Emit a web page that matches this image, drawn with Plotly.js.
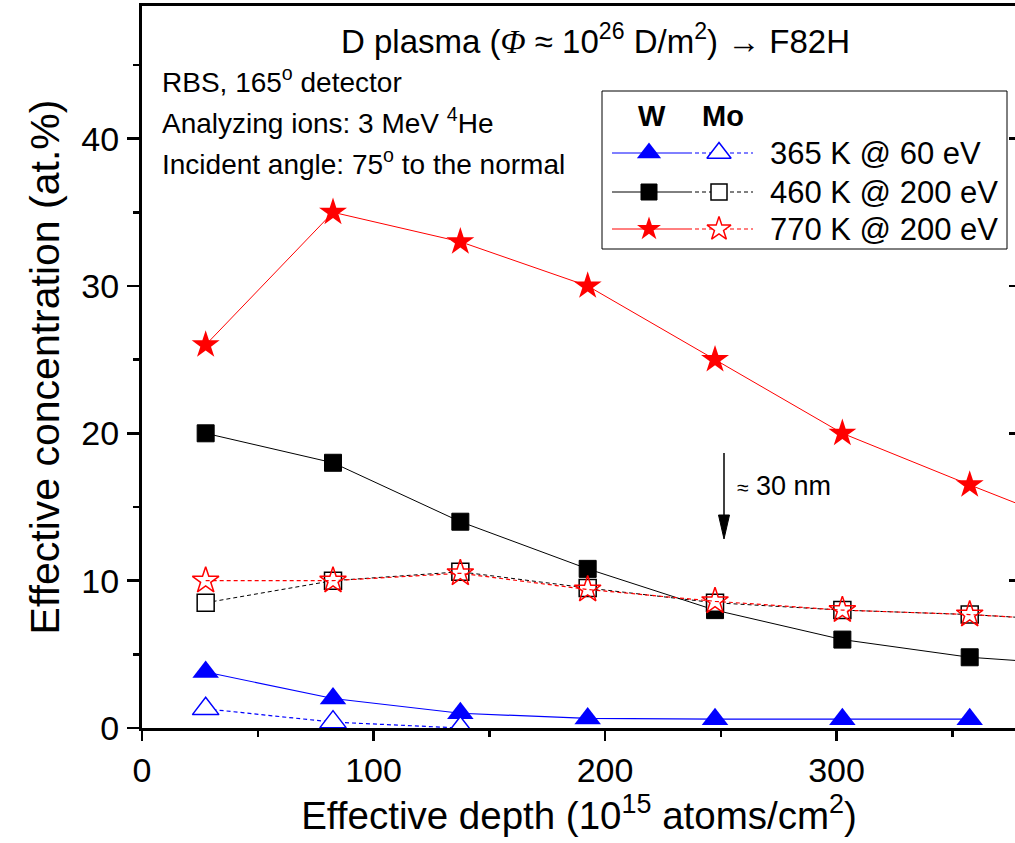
<!DOCTYPE html>
<html>
<head>
<meta charset="utf-8">
<script src="https://cdn.plot.ly/plotly-3.0.1.min.js"></script>
<style>
html,body{margin:0;padding:0;overflow:hidden;background:#fff;}
#chart{width:1016px;height:843px;}
</style>
</head>
<body>
<div id="chart"></div>
<script>
// ---- data ----
var depth = [27.5, 82.5, 137.5, 192.5, 247.5, 302.5, 357.5, 412.5];
var W_365K = [3.8, 2.0, 1.0, 0.65, 0.6, 0.6, 0.6];
var Mo_365K = [1.3, 0.4, 0.0];
var W_460K = [20.0, 18.0, 14.0, 10.8, 8.0, 6.0, 4.8, 4.2];
var Mo_460K = [8.5, 10.0, 10.6, 9.5, 8.5, 8.0, 7.7, 7.2];
var W_770K = [26.0, 35.0, 33.0, 30.0, 25.0, 20.0, 16.5, 13.1];
var Mo_770K = [10.0, 10.0, 10.5, 9.4, 8.6, 8.0, 7.7, 7.2];
var seriesLabels = ['365 K @ 60 eV', '460 K @ 200 eV', '770 K @ 200 eV'];
var xTicks = [0, 100, 200, 300];
var yTicks = [0, 10, 20, 30, 40];

// ---- geometry ----
var W = 1016, H = 843;
var L = 142, R = 0, T = 6, B = 115;
var XMAX = 377.5, YMAX = 49;
var pw = W - L - R, ph = H - T - B;
function px2x(px){ return (px - L) / pw * XMAX; }
function py2y(py){ return (H - B - py) / ph * YMAX; }
function ppx(px){ return (px - L) / pw; }
function ppy(py){ return (H - B - py) / ph; }

var FONT = 'Liberation Sans, Arial, sans-serif';
var BLUE = '#0000ff', BLACK = '#000000', RED = '#ff0000';
var DASH = '4px,3px';
var TRI = 23, SQ = 17, STAR = 21;

function sub(arr, n){ return arr.slice(0, n); }

var traces = [
  {x: sub(depth, W_365K.length), y: W_365K, mode: 'lines+markers', name: 'W 365 K',
   line: {color: BLUE, width: 1.2},
   marker: {symbol: 'triangle-up', size: TRI, color: BLUE, line: {width: 0}}},
  {x: sub(depth, Mo_365K.length), y: Mo_365K, mode: 'lines+markers', name: 'Mo 365 K',
   line: {color: BLUE, width: 1.2, dash: DASH},
   marker: {symbol: 'triangle-up', size: TRI, color: '#ffffff', line: {width: 1.5, color: BLUE}}},
  {x: sub(depth, W_460K.length), y: W_460K, mode: 'lines+markers', name: 'W 460 K',
   line: {color: BLACK, width: 1},
   marker: {symbol: 'square', size: SQ, color: BLACK, line: {width: 1, color: BLACK}}},
  {x: sub(depth, Mo_460K.length), y: Mo_460K, mode: 'lines+markers', name: 'Mo 460 K',
   line: {color: BLACK, width: 1, dash: DASH},
   marker: {symbol: 'square', size: SQ, color: '#ffffff', line: {width: 1.5, color: BLACK}}},
  {x: sub(depth, W_770K.length), y: W_770K, mode: 'lines+markers', name: 'W 770 K',
   line: {color: RED, width: 1},
   marker: {symbol: 'star', size: STAR, color: RED, line: {width: 0}}},
  {x: sub(depth, Mo_770K.length), y: Mo_770K, mode: 'lines+markers', name: 'Mo 770 K',
   line: {color: RED, width: 1.2, dash: DASH},
   marker: {symbol: 'star', size: STAR - 1, color: 'rgba(255,255,255,0)', line: {width: 1.5, color: RED}}}
];
traces.forEach(function(t){ t.showlegend = false; t.hoverinfo = 'skip'; });

// ---- custom legend (W / Mo columns) ----
var legRows = [153, 192, 229];
var legWx = 649, legMox = 719;
var legSpecs = [
  {c: BLUE,  wSym: 'triangle-up', moSym: 'triangle-up', size: 21, moFill: '#ffffff'},
  {c: BLACK, wSym: 'square', moSym: 'square', size: 16, moFill: '#ffffff'},
  {c: RED,   wSym: 'star', moSym: 'star', size: 18, moFill: '#ffffff'}
];
var shapes = [];
var annotations = [];
shapes.push({type: 'rect', xref: 'paper', yref: 'paper', x0: ppx(602), x1: ppx(1007), y0: ppy(249), y1: ppy(91),
             fillcolor: '#ffffff', line: {color: '#000', width: 1}, layer: 'below'});
legSpecs.forEach(function(s, i){
  var yy = py2y(legRows[i]);
  shapes.push({type: 'line', xref: 'x', yref: 'y', x0: px2x(612), x1: px2x(688), y0: yy, y1: yy, layer: 'below',
               line: {color: s.c, width: 1}});
  shapes.push({type: 'line', xref: 'x', yref: 'y', x0: px2x(688), x1: px2x(753), y0: yy, y1: yy, layer: 'below',
               line: {color: s.c, width: 1.2, dash: DASH}});
  traces.push({x: [px2x(legWx)], y: [yy], yaxis: 'y2', mode: 'markers', showlegend: false, hoverinfo: 'skip',
               cliponaxis: false,
               marker: {symbol: s.wSym, size: s.size, color: s.c, line: {width: s.wSym === 'square' ? 1 : 0, color: s.c}}});
  traces.push({x: [px2x(legMox)], y: [yy], yaxis: 'y2', mode: 'markers', showlegend: false, hoverinfo: 'skip',
               cliponaxis: false,
               marker: {symbol: s.moSym, size: s.size, color: s.moFill, line: {width: 1.5, color: s.c}}});
  annotations.push({xref: 'paper', yref: 'paper', x: ppx(768), y: ppy(legRows[i]), xanchor: 'left', yanchor: 'middle',
                    text: seriesLabels[i], showarrow: false, font: {family: FONT, size: 31, color: '#000'}});
});
annotations.push({xref: 'paper', yref: 'paper', x: ppx(652), y: ppy(116), xanchor: 'center', yanchor: 'middle',
                  text: '<b>W</b>', showarrow: false, font: {family: FONT, size: 29, color: '#000'}});
annotations.push({xref: 'paper', yref: 'paper', x: ppx(723), y: ppy(116), xanchor: 'center', yanchor: 'middle',
                  text: '<b>Mo</b>', showarrow: false, font: {family: FONT, size: 29, color: '#000'}});

// ---- title and notes ----
annotations.push({xref: 'paper', yref: 'paper', x: ppx(595), y: ppy(39), xanchor: 'center', yanchor: 'middle',
  text: 'D plasma (<i><span style="font-family:Liberation Serif, serif">\u03a6</span></i> \u2248 10<sup>26</sup> D/m<sup>2</sup>) \u2192 F82H',
  showarrow: false, font: {family: FONT, size: 33, color: '#000'}});
var notes = ['RBS, 165<sup>o</sup> detector', 'Analyzing ions: 3 MeV <sup>4</sup>He', 'Incident angle: 75<sup>o</sup> to the normal'];
var noteY = [80, 121, 162];
notes.forEach(function(n, i){
  annotations.push({xref: 'paper', yref: 'paper', x: ppx(160), y: ppy(noteY[i]), xanchor: 'left', yanchor: 'middle',
    text: n, showarrow: false, font: {family: FONT, size: 28, color: '#000'}});
});

// ---- arrow "≈ 30 nm" ----
var axX = px2x(724);
shapes.push({type: 'line', xref: 'x', yref: 'y', x0: axX, x1: axX, y0: py2y(453), y1: py2y(520),
             line: {color: '#000', width: 1.5}});
shapes.push({type: 'path', xref: 'x', yref: 'y',
  path: 'M ' + px2x(718.5) + ',' + py2y(515) + ' L ' + px2x(729.5) + ',' + py2y(515) + ' L ' + axX + ',' + py2y(539) + ' Z',
  fillcolor: '#000', line: {color: '#000', width: 1}});
annotations.push({xref: 'paper', yref: 'paper', x: ppx(735), y: ppy(486), xanchor: 'left', yanchor: 'middle',
  text: '<span style="font-size:21px">\u2248</span> 30 nm', showarrow: false, font: {family: FONT, size: 27, color: '#000'}});

var layout = {
  width: W, height: H,
  margin: {l: L, r: R, t: T, b: B, pad: 0},
  paper_bgcolor: '#ffffff', plot_bgcolor: '#ffffff',
  showlegend: false,
  font: {family: FONT, color: '#000'},
  xaxis: {
    range: [0, XMAX], tickvals: xTicks, ticktext: xTicks.map(String),
    ticks: 'outside', ticklen: 10, tickwidth: 2.5, tickcolor: '#000',
    minor: {tickvals: [50, 150, 250, 350], ticks: 'outside', ticklen: 6, tickwidth: 2.5, tickcolor: '#000'},
    showline: true, linewidth: 3, linecolor: '#000', mirror: true,
    showgrid: false, zeroline: false,
    tickfont: {family: FONT, size: 34, color: '#000'},
    title: {text: 'Effective depth (10<sup>15</sup> atoms/cm<sup>2</sup>)', font: {family: FONT, size: 38.5, color: '#000'}, standoff: 12}
  },
  yaxis: {
    range: [0, YMAX], tickvals: yTicks, ticktext: yTicks.map(String),
    ticks: 'outside', ticklen: 12, tickwidth: 2.5, tickcolor: '#000',
    minor: {tickvals: [5, 15, 25, 35, 45], ticks: 'outside', ticklen: 6, tickwidth: 2.5, tickcolor: '#000'},
    showline: true, linewidth: 3, linecolor: '#000',
    showgrid: false, zeroline: false, ticklabelstandoff: 1,
    tickfont: {family: FONT, size: 34, color: '#000'},
    title: {text: 'Effective concentration (at.%)', font: {family: FONT, size: 41, color: '#000'}, standoff: 10}
  },
  yaxis2: {
    overlaying: 'y', side: 'right', anchor: 'x', range: [0, YMAX], tickvals: yTicks,
    ticks: 'inside', ticklen: 7, tickwidth: 2.5, tickcolor: '#000',
    showticklabels: false, showline: false, showgrid: false, zeroline: false
  },
  shapes: shapes,
  annotations: annotations
};

Plotly.newPlot('chart', traces, layout, {displayModeBar: false, staticPlot: true});
</script>
</body>
</html>
